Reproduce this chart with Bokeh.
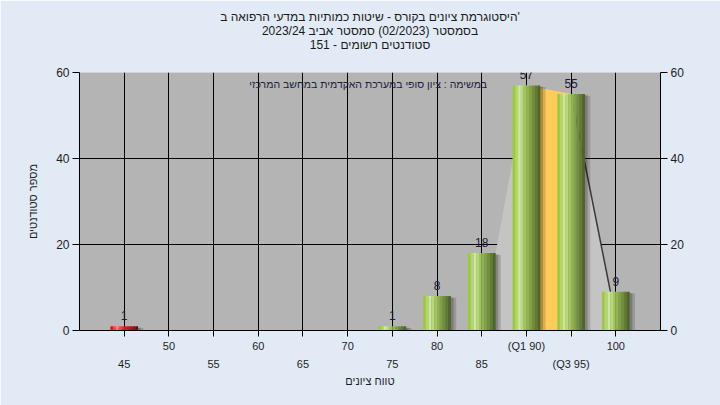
import math
from bokeh.plotting import figure
from bokeh.models import (FixedTicker, LinearAxis, Range1d, Label, Grid, Title,
                          ColumnDataSource)
from bokeh.embed import file_html
from bokeh.resources import INLINE
from bokeh.core.properties import value

# ---------------- data ----------------
grades = [45, 50, 55, 60, 65, 70, 75, 80, 85, 90, 95, 100]
counts = [1, 0, 0, 0, 0, 0, 1, 8, 18, 57, 55, 9]
tick_labels = ["45", "50", "55", "60", "65", "70", "75", "80", "85",
               "(Q1 90)", "(Q3 95)", "100"]
q1_grade = 90
q3_grade = 95
fail_grades = [45]
y_ticks = [0, 20, 40, 60]

title_lines = ["היסטוגרמת ציונים בקורס - שיטות כמותיות במדעי הרפואה ב'",
               "בסמסטר (02/2023) סמסטר אביב 2023/24",
               "סטודנטים רשומים - 151"]
note_text = "במשימה : ציון סופי במערכת האקדמית במחשב המרכזי"
x_title = "טווח ציונים"
y_title = "מספר סטודנטים"

# ---------------- style ----------------
FONT = "Liberation Sans"
BW = 3.1          # bar width in data units
GREEN = ["#9cc844", "#b3d865", "#cfe6a2", "#b9d77c", "#a3c560",
         "#92b352", "#82a048", "#718d3e", "#617a35", "#4f662b"]
RED = ["#e01818", "#f04848", "#ff8080", "#f04a4a", "#de3030",
       "#cc2424", "#b81c1c", "#a41414", "#900e0e", "#7a0808"]
N_STRIPS = len(GREEN)
END_OFF = -0.6
TXT = "#1e1e1e"

p = figure(width=720, height=405, x_range=Range1d(40, 105), y_range=Range1d(0, 60),
           x_axis_type=None, y_axis_type=None,
           output_backend="svg", toolbar_location=None,
           min_border_left=79, min_border_right=60, min_border_top=72, min_border_bottom=75,
           background_fill_color="#b4b4b4", border_fill_color="#e2eaf6",
           outline_line_color=None)

# titles: first added sits next to the frame; a tiny spacer keeps the gap
p.add_layout(Title(text=" ", text_font_size="2px", standoff=18), "above")
for t in reversed(title_lines):
    p.add_layout(Title(text=t, align="center", text_font=FONT, text_font_size="12px",
                       text_font_style="normal", text_color="#1a1a1a", standoff=-2.5),
                 "above")

# grids
p.add_layout(Grid(dimension=0, ticker=FixedTicker(ticks=grades),
                  grid_line_color="black", grid_line_width=1))
p.add_layout(Grid(dimension=1, ticker=FixedTicker(ticks=y_ticks),
                  grid_line_color="black", grid_line_width=1))


# axes
def y_axis(label):
    ax = LinearAxis(ticker=FixedTicker(ticks=y_ticks), axis_line_color="black",
                    major_tick_line_color="black", major_tick_out=7, major_tick_in=0,
                    minor_tick_out=0, minor_tick_in=0, major_label_standoff=3,
                    major_label_text_font=FONT, major_label_text_font_size="12px",
                    major_label_text_color=TXT)
    if label:
        ax.axis_label = label
        ax.axis_label_text_font = FONT
        ax.axis_label_text_font_size = "11px"
        ax.axis_label_text_font_style = "normal"
        ax.axis_label_text_color = TXT
        ax.axis_label_standoff = 14
    return ax


p.add_layout(y_axis(y_title), "left")
p.add_layout(y_axis(None), "right")

upper = {g: (lab if i % 2 == 1 else "") for i, (g, lab) in enumerate(zip(grades, tick_labels))}
lower = {g: (lab if i % 2 == 0 else "") for i, (g, lab) in enumerate(zip(grades, tick_labels))}

xa1 = LinearAxis(ticker=FixedTicker(ticks=grades), major_label_overrides=upper,
                 axis_line_color="black", major_tick_line_color="black",
                 major_tick_out=6, major_tick_in=0, minor_tick_out=0, minor_tick_in=0,
                 major_label_standoff=3, major_label_text_font=FONT,
                 major_label_text_font_size="11px", major_label_text_color=TXT)
xa2 = LinearAxis(ticker=FixedTicker(ticks=grades), major_label_overrides=lower,
                 axis_line_color=None, major_tick_line_color=None,
                 major_tick_out=0, major_tick_in=0, minor_tick_out=0, minor_tick_in=0,
                 major_label_standoff=3, major_label_text_font=FONT,
                 major_label_text_font_size="11px", major_label_text_color=TXT,
                 axis_label=x_title, axis_label_text_font=FONT,
                 axis_label_text_font_size="11px", axis_label_text_font_style="normal",
                 axis_label_text_color=TXT, axis_label_standoff=2)
p.add_layout(xa1, "below")
p.add_layout(xa2, "below")

# area between bars (frequency polygon segments)
i1 = grades.index(q1_grade)
i3 = grades.index(q3_grade)
light_x = [grades[i1 - 1] + BW / 2, grades[i1 - 1] + BW / 2, grades[i1], grades[i3],
           grades[i3 + 1] + END_OFF, grades[i3 + 1] + END_OFF]
light_y = [0, counts[i1 - 1], counts[i1], counts[i3], counts[i3 + 1], 0]
p.patch(light_x, light_y, fill_color="#c4c4c4", line_color=None)
p.patch([grades[i1], grades[i1], grades[i3], grades[i3]],
        [0, counts[i1], counts[i3], 0], fill_color="#ffcc5a", line_color=None)
p.line([grades[i3], grades[i3 + 1] + END_OFF], [counts[i3], counts[i3 + 1]],
       line_color="#3a3a3a", line_width=1.5)

# bars
nz = [(g, c) for g, c in zip(grades, counts) if c > 0]
# shadows
p.vbar(x=[g + 0.6 for g, c in nz], width=BW, top=[c - 0.4 for g, c in nz], bottom=0,
       fill_color="black", fill_alpha=0.15, line_color=None)
p.vbar(x=[g + 0.3 for g, c in nz], width=BW, top=[c - 0.3 for g, c in nz], bottom=0,
       fill_color="black", fill_alpha=0.2, line_color=None)

sx, stop, scol = [], [], []
for g, c in nz:
    pal = RED if g in fail_grades else GREEN
    for j in range(N_STRIPS):
        sx.append(g - BW / 2 + (j + 0.5) * BW / N_STRIPS)
        stop.append(c)
        scol.append(pal[j])
src = ColumnDataSource(dict(x=sx, top=stop, color=scol))
p.vbar(x="x", top="top", bottom=0, width=BW / N_STRIPS * 1.02, fill_color="color",
       line_color=None, source=src)

# value labels
p.text(x=[g for g, c in nz], y=[c for g, c in nz], text=[str(c) for g, c in nz],
       text_align="center", text_baseline="bottom", y_offset=-6,
       text_font=value(FONT), text_font_size="12px", text_color="#1c1c3a")

# note
p.add_layout(Label(x=72.3, y=57.4, text=note_text, text_align="center",
                   text_baseline="middle", text_font=FONT, text_font_size="10.5px",
                   text_color="#1c1c40"))

open("out.html", "w").write(file_html(p, INLINE))
